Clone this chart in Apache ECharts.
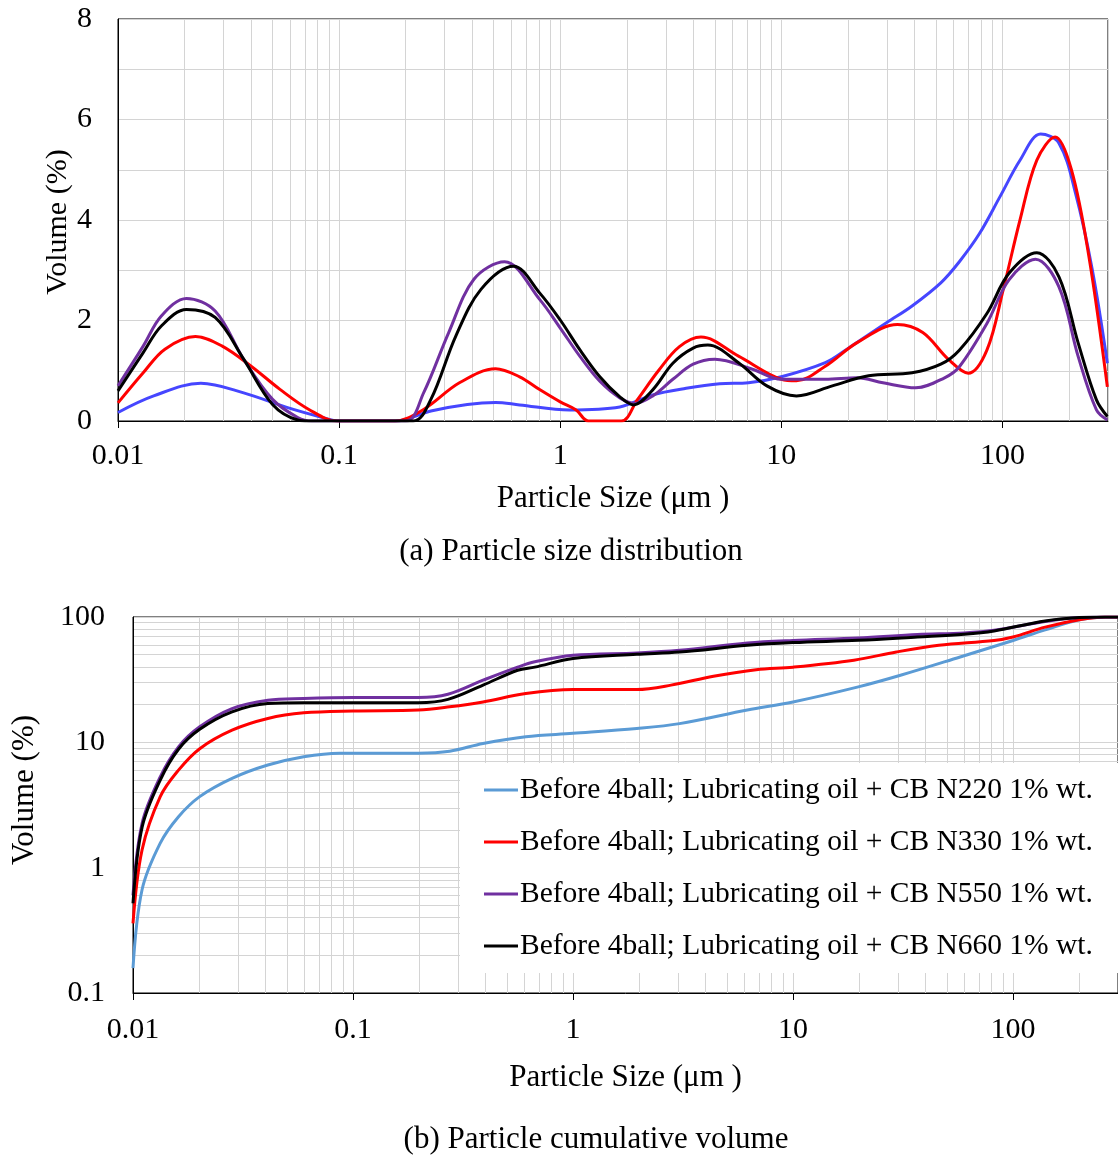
<!DOCTYPE html>
<html>
<head>
<meta charset="utf-8">
<script src="https://cdn.jsdelivr.net/npm/echarts@6/dist/echarts.min.js"></script>
<style>
  html, body { margin: 0; padding: 0; background: #fff; }
  #chart { width: 1118px; height: 1158px; }
</style>
</head>
<body>
<div id="chart"></div>
<script>
// ---------- (a) Particle size distribution: volume % per size class ----------
const sizeA_N220 = [0.01, 0.0145, 0.0237, 0.037, 0.058, 0.084, 0.1, 0.18, 0.26, 0.38, 0.51, 0.655, 1.1, 1.86, 2.62, 3.71, 5.26, 7.1, 10, 15.8, 19.8, 30, 39, 52.6, 63.8, 78.7, 97.3, 120, 148.7, 180, 214, 255, 298];
const volA_N220  = [0.17, 0.5, 0.75, 0.56, 0.27, 0.07, 0, 0, 0.2, 0.33, 0.37, 0.32, 0.22, 0.28, 0.52, 0.65, 0.74, 0.76, 0.88, 1.16, 1.43, 1.96, 2.29, 2.75, 3.17, 3.73, 4.46, 5.19, 5.71, 5.53, 4.53, 3.0, 1.15];

const sizeA_N330 = [0.01, 0.013, 0.0163, 0.0224, 0.0296, 0.04, 0.054, 0.073, 0.098, 0.179, 0.241, 0.35, 0.51, 0.655, 0.81, 1.0, 1.18, 1.34, 1.89, 2.23, 2.79, 3.46, 4.33, 6.4, 10, 11.7, 15.8, 22, 33.5, 43.6, 56.8, 70, 85, 100.7, 120, 143, 173, 205, 246, 298];
const volA_N330  = [0.36, 0.96, 1.43, 1.68, 1.49, 1.09, 0.63, 0.23, 0, 0, 0.23, 0.76, 1.04, 0.88, 0.62, 0.38, 0.22, 0, 0, 0.42, 1.01, 1.48, 1.67, 1.29, 0.83, 0.80, 1.09, 1.56, 1.92, 1.76, 1.23, 0.95, 1.41, 2.61, 4.0, 5.19, 5.65, 5.0, 3.27, 0.68];

const sizeA_N550 = [0.01, 0.013, 0.0157, 0.0204, 0.0275, 0.037, 0.05, 0.065, 0.0755, 0.2, 0.241, 0.313, 0.407, 0.56, 0.81, 1.0, 1.23, 1.51, 1.86, 2.17, 2.62, 3.23, 3.99, 5.0, 7.4, 10, 15.8, 22, 28.8, 40.5, 54.7, 63.8, 85, 107, 141, 180, 220, 266, 298];
const volA_N550  = [0.70, 1.49, 2.09, 2.44, 2.19, 1.23, 0.43, 0.07, 0, 0, 0.56, 1.76, 2.82, 3.17, 2.41, 1.85, 1.28, 0.79, 0.46, 0.35, 0.50, 0.83, 1.13, 1.23, 1.03, 0.83, 0.83, 0.86, 0.76, 0.66, 0.86, 1.08, 1.94, 2.81, 3.22, 2.67, 1.28, 0.22, 0.02];

const sizeA_N660 = [0.01, 0.013, 0.0157, 0.0204, 0.0275, 0.037, 0.05, 0.065, 0.073, 0.216, 0.26, 0.337, 0.438, 0.615, 0.81, 1.0, 1.23, 1.51, 1.86, 2.14, 2.62, 3.23, 3.99, 4.65, 6.4, 8.6, 11.7, 17, 24.8, 39, 52.6, 63.8, 85, 107, 143, 180, 220, 266, 298];
const volA_N660  = [0.60, 1.36, 1.89, 2.22, 2.06, 1.23, 0.33, 0.02, 0, 0, 0.43, 1.69, 2.62, 3.08, 2.54, 2.01, 1.41, 0.88, 0.48, 0.32, 0.62, 1.15, 1.45, 1.51, 1.16, 0.70, 0.50, 0.70, 0.90, 0.96, 1.13, 1.41, 2.14, 2.94, 3.35, 2.87, 1.55, 0.42, 0.09];

// ---------- (b) Particle cumulative volume ----------
const sizeB_N220 = [0.01, 0.011, 0.0133, 0.0161, 0.0201, 0.0282, 0.041, 0.0597, 0.0868, 0.198, 0.275, 0.39, 0.61, 1.0, 1.95, 3.05, 6.2, 10, 19.8, 30.8, 57.5, 100, 140, 200, 262, 300];
const cumB_N220  = [0.158, 0.67, 1.57, 2.55, 3.69, 5.16, 6.59, 7.68, 8.2, 8.2, 8.5, 9.8, 11.1, 11.8, 12.9, 14.1, 18.1, 21.0, 27.7, 34.3, 48, 65, 79, 95, 100, 100];

const sizeB_N330 = [0.01, 0.011, 0.0133, 0.0161, 0.0201, 0.0282, 0.041, 0.0597, 0.1, 0.198, 0.275, 0.39, 0.61, 1.0, 1.95, 2.79, 4.35, 6.8, 10, 18.9, 29.5, 46, 82, 100, 140, 200, 262, 300];
const cumB_N330  = [0.36, 1.39, 3.69, 6.0, 8.9, 12.5, 15.5, 17.2, 17.8, 18.1, 19.2, 21, 24.5, 26.4, 26.4, 28.6, 33.7, 38, 39.8, 45.2, 52.6, 59.4, 65, 69.3, 83, 95, 100, 100];

const sizeB_N550 = [0.01, 0.011, 0.0133, 0.0161, 0.0201, 0.0282, 0.041, 0.0597, 0.1, 0.198, 0.27, 0.39, 0.56, 0.67, 1.0, 1.95, 3.05, 6.2, 10, 19.8, 36.8, 60, 82, 140, 200, 262, 300];
const cumB_N550  = [0.6, 2.26, 5.3, 9.2, 13.3, 18.6, 21.7, 22.4, 22.8, 22.8, 24.2, 31.3, 39.8, 43.9, 49.5, 51.7, 54.3, 62, 65, 68, 72.4, 74.6, 78.3, 92, 99, 100, 100];

const sizeB_N660 = [0.01, 0.011, 0.0133, 0.0161, 0.0201, 0.0282, 0.041, 0.0597, 0.1, 0.198, 0.27, 0.39, 0.56, 0.67, 1.0, 1.95, 3.05, 6.2, 10, 19.8, 36.8, 60, 82, 140, 200, 262, 300];
const cumB_N660  = [0.52, 2.1, 5.0, 8.8, 12.7, 17.5, 20.4, 20.7, 20.7, 20.7, 22, 28.6, 37.6, 39.8, 46.6, 50.4, 52.5, 59.4, 62.5, 65.2, 69.2, 72.8, 77.4, 93, 99, 100, 100];

const legendNames = [
  'Before 4ball; Lubricating oil + CB N220 1% wt.',
  'Before 4ball; Lubricating oil + CB N330 1% wt.',
  'Before 4ball; Lubricating oil + CB N550 1% wt.',
  'Before 4ball; Lubricating oil + CB N660 1% wt.'
];

const SERIF = "'Liberation Serif', 'Times New Roman', serif";
const GRID_GRAY = '#d4d4d4';
const X_MIN = 0.01, X_MAX = 300;

const zip = (xs, ys) => xs.map((x, i) => [x, ys[i]]);
const fmtNum = v => String(+(+v).toPrecision(6));

// minor log grid positions (2..9 within each decade)
function minorLog(lo, hi) {
  const out = [];
  for (let d = Math.floor(Math.log10(lo)); d <= Math.ceil(Math.log10(hi)); d++) {
    for (let k = 2; k <= 9; k++) {
      const v = +(k * Math.pow(10, d)).toPrecision(6);
      if (v > lo && v < hi) out.push(v);
    }
  }
  return out;
}

const minorLineStyle = { color: GRID_GRAY, width: 1, type: 'solid' };
function gridHelper(xIdx, yIdx, marks) {
  return {
    type: 'line', xAxisIndex: xIdx, yAxisIndex: yIdx, data: [], z: 0,
    silent: true, legendHoverLink: false,
    markLine: {
      z: 0, silent: true, symbol: 'none', animation: false,
      label: { show: false },
      lineStyle: minorLineStyle,
      emphasis: { disabled: true },
      data: marks
    }
  };
}

function curve(name, xIdx, yIdx, data, color) {
  return {
    name, type: 'line', xAxisIndex: xIdx, yAxisIndex: yIdx,
    data, smooth: 0.35, showSymbol: false, symbol: 'none', clip: true, z: 3,
    lineStyle: { color, width: 3 }, itemStyle: { color }
  };
}

const xAxisCommon = {
  type: 'log', logBase: 10, min: X_MIN, max: X_MAX,
  axisLine: { show: true, lineStyle: { color: '#000', width: 1 } },
  axisTick: { show: true, length: 7, lineStyle: { color: '#000' } },
  axisLabel: { color: '#000', fontFamily: SERIF, fontSize: 30, formatter: fmtNum, showMaxLabel: false, margin: 20 },
  splitLine: { show: true, lineStyle: { color: GRID_GRAY, width: 1 } },
  nameLocation: 'middle',
  nameTextStyle: { color: '#000', fontFamily: SERIF, fontSize: 31 }
};

const chart = echarts.init(document.getElementById('chart'), null, { renderer: 'canvas' });

chart.setOption({
  animation: false,
  backgroundColor: '#fff',
  grid: [
    { left: 118, top: 19, width: 990, height: 402, show: true, borderColor: '#000', borderWidth: 1, backgroundColor: 'transparent' },
    { left: 133, top: 617, width: 985, height: 376, show: true, borderColor: '#000', borderWidth: 1, backgroundColor: 'transparent' }
  ],
  xAxis: [
    Object.assign({}, xAxisCommon, { gridIndex: 0, name: 'Particle Size (μm )', nameGap: 62 }),
    Object.assign({}, xAxisCommon, { gridIndex: 1, name: 'Particle Size (μm )', nameGap: 69, axisLabel: Object.assign({}, xAxisCommon.axisLabel, { margin: 22 }) })
  ],
  yAxis: [
    {
      gridIndex: 0, type: 'value', min: 0, max: 8, interval: 1,
      axisLine: { show: true, lineStyle: { color: '#000' } },
      axisTick: { show: false },
      axisLabel: { color: '#000', fontFamily: SERIF, fontSize: 30, margin: 26, formatter: v => (v % 2 === 0 ? String(v) : '') },
      splitLine: { show: true, lineStyle: { color: GRID_GRAY, width: 1 } }
    },
    {
      gridIndex: 1, type: 'log', logBase: 10, min: 0.1, max: 100,
      axisLine: { show: true, lineStyle: { color: '#000' } },
      axisTick: { show: false },
      axisLabel: { color: '#000', fontFamily: SERIF, fontSize: 30, margin: 28, formatter: fmtNum },
      splitLine: { show: true, lineStyle: { color: GRID_GRAY, width: 1 } }
    }
  ],
  legend: {
    z: 20,
    data: legendNames,
    orient: 'vertical',
    left: 460, top: 763,
    backgroundColor: '#fff',
    padding: [12, 26, 12, 24],
    itemGap: 22,
    itemWidth: 34, itemHeight: 3,
    icon: 'rect',
    selectedMode: false,
    textStyle: { color: '#000', fontFamily: SERIF, fontSize: 29.5, lineHeight: 30, padding: [0, 0, 0, -3] }
  },
  graphic: [
    { type: 'text', x: 58, y: 222, rotation: Math.PI / 2,
      style: { text: 'Volume (%)', font: '30px ' + SERIF, fill: '#000', textAlign: 'center', textVerticalAlign: 'middle' } },
    { type: 'text', x: 25, y: 790, rotation: Math.PI / 2,
      style: { text: 'Volume (%)', font: '31px ' + SERIF, fill: '#000', textAlign: 'center', textVerticalAlign: 'middle' } },
    { type: 'text', x: 571, y: 552,
      style: { text: '(a) Particle size distribution', font: '31px ' + SERIF, fill: '#000', textAlign: 'center', textVerticalAlign: 'middle' } },
    { type: 'text', x: 596, y: 1140,
      style: { text: '(b) Particle cumulative volume', font: '31px ' + SERIF, fill: '#000', textAlign: 'center', textVerticalAlign: 'middle' } }
  ],
  series: [
    gridHelper(0, 0, minorLog(X_MIN, X_MAX).map(v => ({ xAxis: v }))),
    gridHelper(1, 1, minorLog(X_MIN, X_MAX).map(v => ({ xAxis: v }))
      .concat(minorLog(0.1, 100).map(v => ({ yAxis: v })))),

    curve('N220 size distribution', 0, 0, zip(sizeA_N220, volA_N220), '#4646ff'),
    curve('N330 size distribution', 0, 0, zip(sizeA_N330, volA_N330), '#ff0000'),
    curve('N550 size distribution', 0, 0, zip(sizeA_N550, volA_N550), '#7030a0'),
    curve('N660 size distribution', 0, 0, zip(sizeA_N660, volA_N660), '#000000'),

    curve(legendNames[0], 1, 1, zip(sizeB_N220, cumB_N220), '#5b9bd5'),
    curve(legendNames[1], 1, 1, zip(sizeB_N330, cumB_N330), '#ff0000'),
    curve(legendNames[2], 1, 1, zip(sizeB_N550, cumB_N550), '#7030a0'),
    curve(legendNames[3], 1, 1, zip(sizeB_N660, cumB_N660), '#000000')
  ]
});
</script>
</body>
</html>
